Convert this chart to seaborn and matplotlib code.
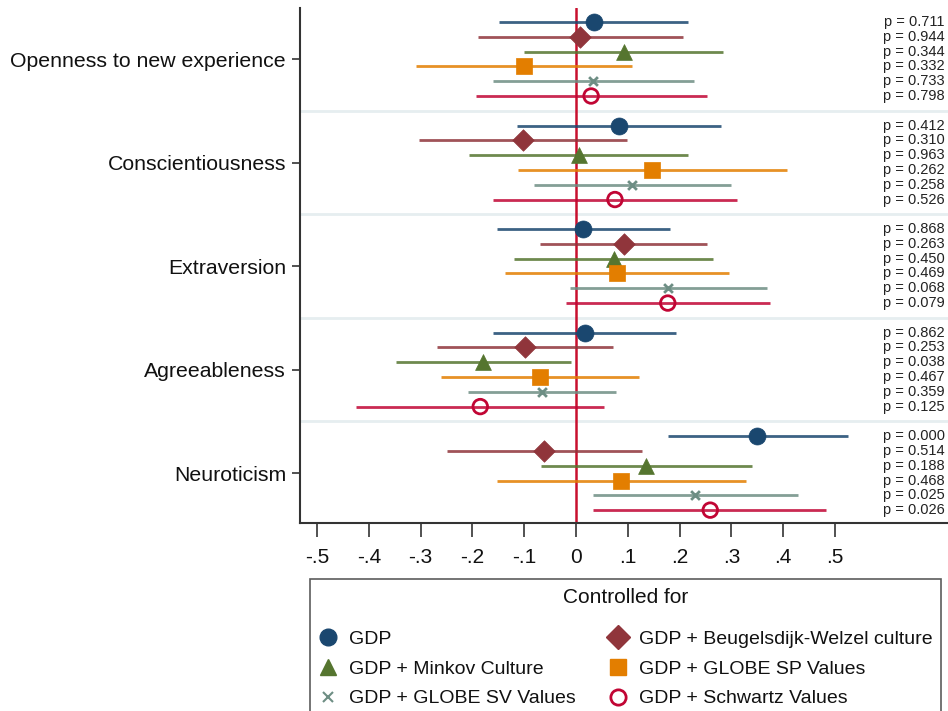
import numpy as np
import pandas as pd
import seaborn as sns
import matplotlib.pyplot as plt
from matplotlib.lines import Line2D

traits = ["Openness to new experience", "Conscientiousness", "Extraversion",
          "Agreeableness", "Neuroticism"]
models = ["GDP", "GDP + Beugelsdijk-Welzel culture", "GDP + Minkov Culture",
          "GDP + GLOBE SP Values", "GDP + GLOBE SV Values", "GDP + Schwartz Values"]

# coefficients, one list per trait, in model order
coef_open = [0.034, 0.007, 0.092, -0.101, 0.033, 0.029]
coef_consc = [0.082, -0.102, 0.006, 0.147, 0.108, 0.075]
coef_extra = [0.014, 0.092, 0.073, 0.079, 0.177, 0.177]
coef_agree = [0.017, -0.098, -0.179, -0.069, -0.065, -0.185]
coef_neuro = [0.350, -0.061, 0.135, 0.087, 0.229, 0.259]

lo_open = [-0.148, -0.190, -0.100, -0.310, -0.160, -0.194]
lo_consc = [-0.114, -0.303, -0.206, -0.113, -0.081, -0.160]
lo_extra = [-0.152, -0.069, -0.119, -0.138, -0.012, -0.019]
lo_agree = [-0.160, -0.269, -0.348, -0.260, -0.209, -0.424]
lo_neuro = [0.177, -0.249, -0.067, -0.152, 0.032, 0.033]

hi_open = [0.217, 0.206, 0.284, 0.108, 0.228, 0.253]
hi_consc = [0.279, 0.098, 0.217, 0.408, 0.299, 0.310]
hi_extra = [0.182, 0.253, 0.265, 0.295, 0.368, 0.375]
hi_agree = [0.193, 0.072, -0.010, 0.121, 0.078, 0.053]
hi_neuro = [0.524, 0.127, 0.339, 0.328, 0.428, 0.483]

p_open = ["0.711", "0.944", "0.344", "0.332", "0.733", "0.798"]
p_consc = ["0.412", "0.310", "0.963", "0.262", "0.258", "0.526"]
p_extra = ["0.868", "0.263", "0.450", "0.469", "0.068", "0.079"]
p_agree = ["0.862", "0.253", "0.038", "0.467", "0.359", "0.125"]
p_neuro = ["0.000", "0.514", "0.188", "0.468", "0.025", "0.026"]

xticks = [-0.5, -0.4, -0.3, -0.2, -0.1, 0, 0.1, 0.2, 0.3, 0.4, 0.5]
xticklabels = ["-.5", "-.4", "-.3", "-.2", "-.1", "0", ".1", ".2", ".3", ".4", ".5"]

colors = ["#1a476f", "#90353b", "#55752f", "#e37e00", "#6e8e84", "#c10534"]
markers = ["o", "D", "^", "s", "x", "o"]
sizes = [150, 120, 130, 120, 40, 110]

coefs = [coef_open, coef_consc, coef_extra, coef_agree, coef_neuro]
los = [lo_open, lo_consc, lo_extra, lo_agree, lo_neuro]
his = [hi_open, hi_consc, hi_extra, hi_agree, hi_neuro]
ps = [p_open, p_consc, p_extra, p_agree, p_neuro]

rows = []
for g, t in enumerate(traits):
    for j, m in enumerate(models):
        rows.append(dict(trait=t, model=m, ypos=g * 7 + j, coef=coefs[g][j],
                         lo=los[g][j], hi=his[g][j], p=ps[g][j]))
df = pd.DataFrame(rows)

sns.set_theme(style="white")
plt.rcParams['font.family'] = ['Liberation Sans', 'DejaVu Sans']
plt.rcParams['text.color'] = "#111111"

fig = plt.figure(figsize=(9.48, 7.11), dpi=100)
ax = fig.add_axes([300 / 948, 1 - 523 / 711, 1 - 300 / 948, (523 - 8) / 711])

# group separators
for g in range(1, 5):
    ax.axhline(g * 7 - 1, color="#e6eef0", lw=2, zorder=0)

ax.axvline(0, color="#c8102e", lw=1.8, zorder=1)

for j, m in enumerate(models):
    sub = df[df.model == m]
    ax.hlines(sub.ypos, sub.lo, sub.hi, color=colors[j], lw=2, alpha=0.85, zorder=2)
    if j == 5:
        sns.scatterplot(data=sub, x="coef", y="ypos", marker="o", s=sizes[j],
                        color=colors[j], facecolor="none", edgecolor=colors[j],
                        linewidth=2, ax=ax, zorder=3)
    elif markers[j] == "x":
        sns.scatterplot(data=sub, x="coef", y="ypos", marker="x", s=sizes[j],
                        color=colors[j], linewidth=2, ax=ax, zorder=3)
    else:
        sns.scatterplot(data=sub, x="coef", y="ypos", marker=markers[j], s=sizes[j],
                        color=colors[j], edgecolor=colors[j], linewidth=0.5,
                        ax=ax, zorder=3)

for _, r in df.iterrows():
    ax.text(0.995, r.ypos, "p = " + r.p, transform=ax.get_yaxis_transform(),
            ha="right", va="center", fontsize=10.5, color="#222222")

ax.set_xlim(-0.533, 0.718)
ax.set_ylim(33.87, -0.95)
ax.set_xticks(xticks)
ax.set_xticklabels(xticklabels, fontsize=15, color="#111111")
ax.set_yticks([g * 7 + 2.5 for g in range(5)])
ax.set_yticklabels(traits, fontsize=15.3, color="#111111")
ax.set_xlabel("")
ax.set_ylabel("")
ax.tick_params(axis="x", direction="out", length=10, width=1.2, color="#333333",
               pad=8, bottom=True)
ax.tick_params(axis="y", direction="out", length=6, width=1.2, color="#333333",
               pad=4, left=True)
for s in ["top", "right"]:
    ax.spines[s].set_visible(False)
for s in ["left", "bottom"]:
    ax.spines[s].set_color("#333333")
    ax.spines[s].set_linewidth(1.5)

handles = []
for j, m in enumerate(models):
    if j == 5:
        h = Line2D([], [], ls="none", marker="o", markersize=11, markerfacecolor="none",
                   markeredgecolor=colors[j], markeredgewidth=2)
    elif markers[j] == "x":
        h = Line2D([], [], ls="none", marker="x", markersize=7, color=colors[j],
                   markeredgewidth=1.5)
    else:
        h = Line2D([], [], ls="none", marker=markers[j], markersize=12, color=colors[j])
    handles.append(h)

order = [0, 2, 4, 1, 3, 5]
leg = fig.legend([handles[i] for i in order], [models[i] for i in order],
                 title="Controlled for", ncol=2, loc="upper left",
                 bbox_to_anchor=(310 / 948, 1 - 579 / 711 - 0.3, 631 / 948, 0.3),
                 mode="expand", fontsize=14, title_fontsize=15, frameon=True,
                 fancybox=False, edgecolor="#333333", borderpad=0.45,
                 handletextpad=0.55, labelspacing=0.62, borderaxespad=0,
                 handlelength=1.0)
leg.get_frame().set_linewidth(1.2)
leg.get_title().set_color("#111111")
leg._legend_box.sep = 17

plt.savefig("out.png", dpi=100)
